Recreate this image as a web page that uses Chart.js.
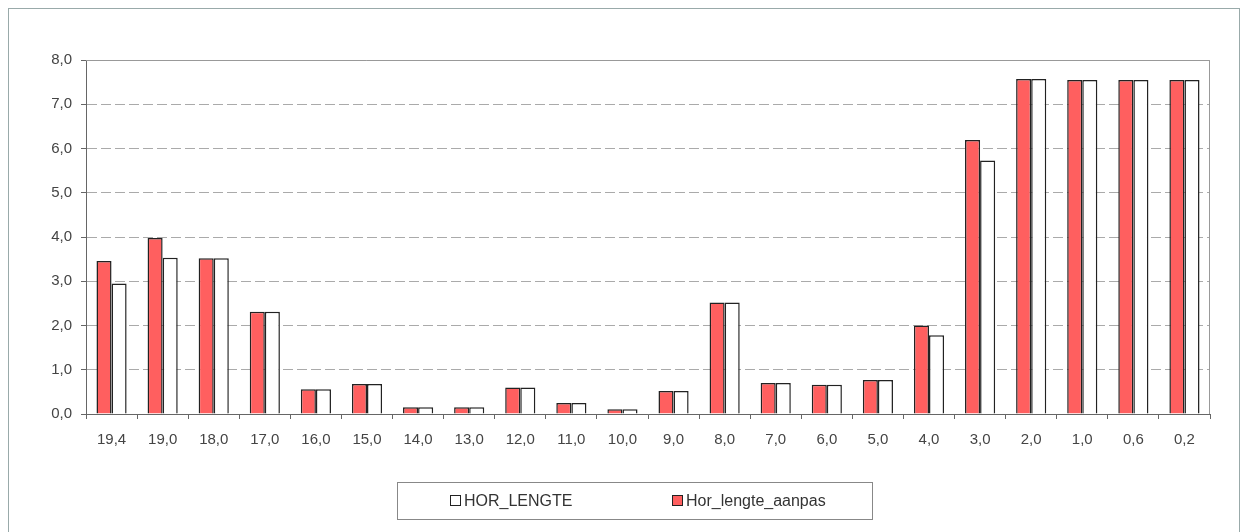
<!DOCTYPE html>
<html>
<head>
<meta charset="utf-8">
<script src="https://cdn.jsdelivr.net/npm/chart.js@4.4.1/dist/chart.umd.min.js"></script>
<style>
  html, body { margin:0; padding:0; background:#fff; }
  #wrap { position:relative; width:1245px; height:532px; }
  #frame { position:absolute; left:8px; top:8px; width:1230px; height:530px;
           border:1px solid #9aa; border-bottom:none; }
  #legend { position:absolute; left:397px; top:482px; width:474px; height:36px;
            border:1px solid #888; font-family:"Liberation Sans", Arial, sans-serif;
            font-size:16px; color:#333; }
  .item { position:absolute; top:9px; line-height:18px; }
  .sw { display:inline-block; width:9px; height:9px; border:1.5px solid #222;
        margin-right:3px; vertical-align:0px; }
</style>
</head>
<body>
<div id="wrap">
  <div id="frame"></div>
  <canvas id="chart" width="1245" height="532"></canvas>
  <div id="legend">
    <div class="item" style="left:52px"><span class="sw" style="background:#fff"></span>HOR_LENGTE</div>
    <div class="item" style="left:274px"><span class="sw" style="background:#ff5f5f"></span>Hor_lengte_aanpas</div>
  </div>
</div>
<script>
// ===== DATA =====
const categories = ["19,4","19,0","18,0","17,0","16,0","15,0","14,0","13,0","12,0","11,0","10,0",
                    "9,0","8,0","7,0","6,0","5,0","4,0","3,0","2,0","1,0","0,6","0,2"];
const horLengteAanpas = [3.46,3.98,3.52,2.31,0.56,0.68,0.15,0.15,0.60,0.25,0.11,
                         0.52,2.52,0.70,0.66,0.77,2.00,6.19,7.57,7.55,7.55,7.55];
const horLengte       = [2.95,3.53,3.52,2.31,0.56,0.68,0.15,0.15,0.60,0.25,0.11,
                         0.52,2.52,0.70,0.66,0.77,1.78,5.73,7.57,7.55,7.55,7.55];

const fmt = v => v.toFixed(1).replace('.', ',');

// plot area border (top + right), like excel
const plotBorder = {
  id:'plotBorder',
  afterDraw(chart){
    const a = chart.chartArea, ctx = chart.ctx;
    ctx.save();
    ctx.strokeStyle = '#999';
    ctx.lineWidth = 1;
    ctx.beginPath();
    ctx.moveTo(a.left, a.top + 0.5);
    ctx.lineTo(a.right - 0.5, a.top + 0.5);
    ctx.lineTo(a.right - 0.5, a.bottom);
    ctx.stroke();
    ctx.restore();
  }
};

new Chart(document.getElementById('chart'), {
  type:'bar',
  data:{
    labels: categories,
    datasets:[
      { label:'Hor_lengte_aanpas', data:horLengteAanpas, backgroundColor:'#ff5f5f',
        borderColor:'#222', borderWidth:1.5 },
      { label:'HOR_LENGTE', data:horLengte, backgroundColor:'#ffffff',
        borderColor:'#222', borderWidth:1.5 }
    ]
  },
  options:{
    responsive:false,
    animation:false,
    devicePixelRatio:1,
    categoryPercentage:0.59,
    barPercentage:1,
    layout:{ padding:{ left:26, right:35, top:60, bottom:86 } },
    plugins:{ legend:{ display:false }, tooltip:{ enabled:false } },
    scales:{
      x:{
        grid:{ offset:true, drawOnChartArea:false, color:'#666', tickLength:5 },
        border:{ color:'#666' },
        ticks:{ color:'#444', padding:12, maxRotation:0, autoSkip:false,
                font:{ family:'"Liberation Sans", Arial, sans-serif', size:15 } },
        afterFit(s){ s.height = 32; }
      },
      y:{
        min:0, max:8,
        grid:{ color:'#aaa', tickColor:'#666', tickLength:5 },
        border:{ color:'#666', dash:[10,4] },
        ticks:{ stepSize:1, color:'#444', padding:9, callback:v => fmt(v),
                font:{ family:'"Liberation Sans", Arial, sans-serif', size:15 } },
        afterFit(s){ s.width = 60; }
      }
    }
  },
  plugins:[plotBorder]
});
</script>
</body>
</html>
